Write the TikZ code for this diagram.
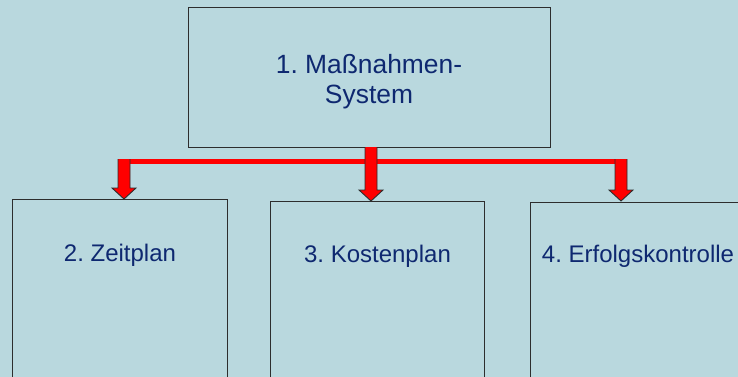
\documentclass[tikz,border=0pt]{standalone}
\usepackage{fontspec}
\setmainfont{Liberation Sans}
\usetikzlibrary{calc}

\definecolor{bg}{RGB}{185,216,222}
\definecolor{ink}{RGB}{14,40,112}
\definecolor{edge}{RGB}{45,45,45}
\definecolor{arrowred}{RGB}{255,0,0}

\tikzset{
  box/.style={draw=edge, line width=1pt, fill=bg, inner sep=0pt},
  boxtext/.style={text=ink, font=\fontsize{24}{28}\selectfont, inner sep=0pt},
  titletext/.style={text=ink, font=\fontsize{26.4}{30}\selectfont, align=center, inner sep=0pt},
  arrowfill/.style={fill=arrowred},
  arrowedge/.style={draw=edge, line width=0.9pt, line join=miter},
}

% block arrow pointing down: name, centre x, top y, tip y
\newcommand\dropArrow[4]{%
  \fill[arrowfill] (#2-6,#3) -- (#2+6,#3) -- (#2+6,#4-11) -- (#2+12,#4-11)
    -- (#2,#4) -- (#2-12,#4-11) -- (#2-6,#4-11) -- cycle;
  \draw[arrowedge] (#2+6,#3) -- (#2+6,#4-11) -- (#2+12,#4-11)
    -- (#2,#4) -- (#2-12,#4-11) -- (#2-6,#4-11) -- (#2-6,#3);
  \coordinate (#1) at (#2,#4);
}

\begin{document}
\frenchspacing
\begin{tikzpicture}[x=1pt, y=-1pt]
  \useasboundingbox (0,0) rectangle (738,377);
  \fill[bg] (0,0) rectangle (738,377);
  \clip (0,0) rectangle (738,377);

  % top box
  \node[box, minimum width=362pt, minimum height=139pt] (sys) at (369,77.5) {};
  \node[titletext] (systxt) at (369,81.3) {1. Maßnahmen-\\System};

  % lower boxes (they run past the lower edge)
  \node[box, anchor=north west, minimum width=215pt, minimum height=220pt] (zeit) at (12,199) {};
  \node[box, anchor=north west, minimum width=214pt, minimum height=220pt] (kost) at (270,201) {};
  \node[box, anchor=north west, minimum width=215pt, minimum height=220pt] (erf) at (530,202) {};

  \node[boxtext, anchor=base] (zeittxt) at ($(zeit.north)+(0,62)$) {2. Zeitplan};
  \node[boxtext, anchor=base] (kosttxt) at ($(kost.north)+(0,61)$) {3. Kostenplan};
  \node[boxtext, anchor=base] (erftxt) at ($(erf.north)+(0,60.5)$) {4. Erfolgskontrolle};

  % red distribution bar
  \fill[arrowred] (118,159) rectangle (627,164);

  % red block arrows
  \dropArrow{tipzeit}{124}{159}{199}
  \dropArrow{tipkost}{371}{147}{201}
  \dropArrow{tiperf}{621}{159}{201}
\end{tikzpicture}
\end{document}
